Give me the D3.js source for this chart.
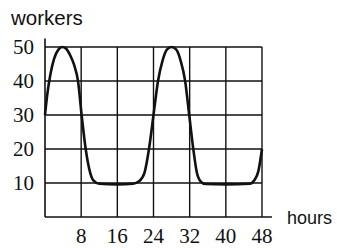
<!DOCTYPE html>
<html><head><meta charset="utf-8">
<script src="https://cdn.jsdelivr.net/npm/d3@7"></script>
<style>html,body{margin:0;padding:0;background:#fff;}svg{display:block;}</style>
</head><body>
<svg id="c" width="340" height="248"></svg>
<script>
const hours   = [0, 0.5, 1.2, 2, 3, 3.8, 4.6, 5.6, 6.5, 7.3, 8.1, 9, 10, 10.7, 12, 16, 19.5, 20.8, 22, 23, 24, 25, 26, 27, 28, 29, 30, 31, 31.9, 32.8, 33.6, 34.4, 35.5, 40, 45.3, 46.3, 47.2, 48];
const workers = [30, 36, 42, 46.5, 49.3, 50, 49.6, 47.5, 44.5, 40, 30, 20, 13, 10.8, 9.8, 9.6, 9.8, 10.5, 13, 20, 30, 40, 46, 49.3, 50, 49.3, 46, 40, 30, 20, 13, 10.5, 9.7, 9.6, 9.8, 10.8, 13.5, 20];
const xTicks = [8, 16, 24, 32, 40, 48];
const yTicks = [10, 20, 30, 40, 50];
const xLabel = "hours", yLabel = "workers";

const svg = d3.select("#c");
const x = d3.scaleLinear().domain([0, 48]).range([45, 262]);
const y = d3.scaleLinear().domain([0, 50]).range([217, 47]);
const ink = "#111";

// grid
svg.append("g").selectAll("line").data(xTicks).join("line")
  .attr("x1", d => x(d)).attr("x2", d => x(d)).attr("y1", y(0)).attr("y2", y(50))
  .attr("stroke", ink).attr("stroke-width", 1.4);
svg.append("g").selectAll("line").data(yTicks).join("line")
  .attr("x1", x(0)).attr("x2", x(48)).attr("y1", d => y(d)).attr("y2", d => y(d))
  .attr("stroke", ink).attr("stroke-width", 1.4);

// axes lines
svg.append("line").attr("x1", x(0)).attr("x2", x(0)).attr("y1", y(0)).attr("y2", y(52.5))
  .attr("stroke", ink).attr("stroke-width", 1.6);
svg.append("line").attr("x1", x(0)).attr("x2", x(50.2)).attr("y1", y(0)).attr("y2", y(0))
  .attr("stroke", ink).attr("stroke-width", 1.6);

// tick labels
svg.append("g").selectAll("text").data(yTicks).join("text")
  .attr("x", 34).attr("y", d => y(d)).attr("dy", "0.35em").attr("text-anchor", "end")
  .attr("font-family", "Liberation Serif, serif").attr("font-size", 21).attr("fill", ink)
  .text(d => d);
svg.append("g").selectAll("text").data(xTicks).join("text")
  .attr("x", d => x(d)).attr("y", 243).attr("text-anchor", "middle")
  .attr("font-family", "Liberation Serif, serif").attr("font-size", 21).attr("fill", ink)
  .text(d => d);

// axis titles
svg.append("text").attr("x", 11).attr("y", 25)
  .attr("font-family", "Liberation Sans, Arial, sans-serif").attr("font-size", 20.5).attr("fill", ink)
  .text(yLabel);
svg.append("text").attr("x", 287).attr("y", 224)
  .attr("font-family", "Liberation Sans, Arial, sans-serif").attr("font-size", 18).attr("fill", ink)
  .text(xLabel);

// curve
const pts = hours.map((h, i) => [h, workers[i]]);
svg.append("path").datum(pts)
  .attr("d", d3.line().x(d => x(d[0])).y(d => y(d[1])).curve(d3.curveMonotoneX))
  .attr("fill", "none").attr("stroke", ink).attr("stroke-width", 2.6);
</script>
</body></html>
